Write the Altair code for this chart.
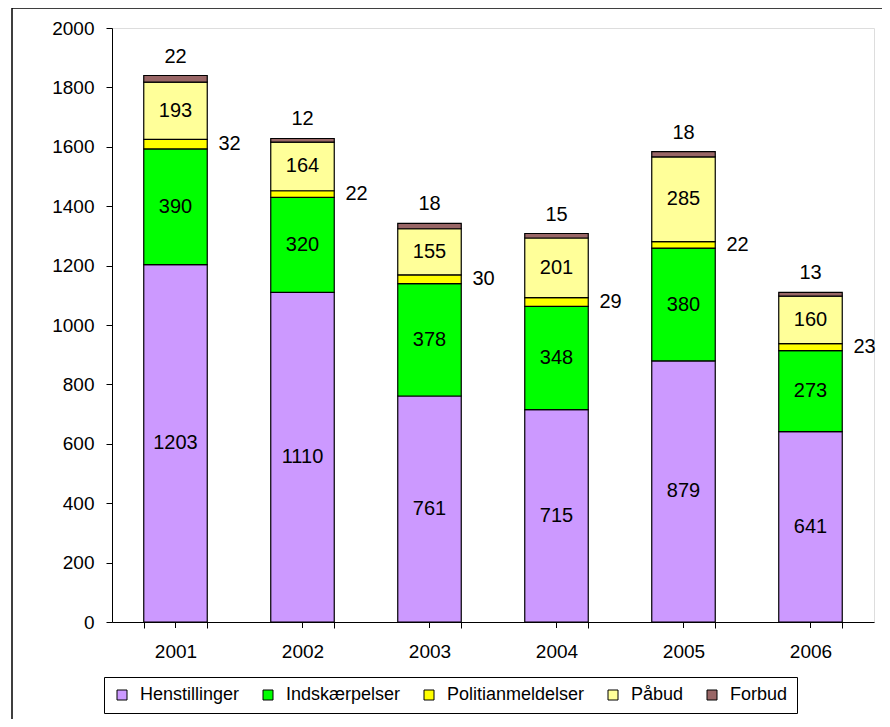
import altair as alt
import pandas as pd

years = ["2001", "2002", "2003", "2004", "2005", "2006"]
series = ["Henstillinger", "Indskærpelser", "Politianmeldelser", "Påbud", "Forbud"]
colors = ["#CC99FF", "#00FF00", "#FFFF00", "#FFFF99", "#996666"]

henstillinger = [1203, 1110, 761, 715, 879, 641]
indskaerpelser = [390, 320, 378, 348, 380, 273]
politianmeldelser = [32, 22, 30, 29, 22, 23]
paabud = [193, 164, 155, 201, 285, 160]
forbud = [22, 12, 18, 15, 18, 13]

values = [henstillinger, indskaerpelser, politianmeldelser, paabud, forbud]

rows = []
for i, y in enumerate(years):
    base = 0
    for s, vals in zip(series, values):
        v = vals[i]
        rows.append({"year": y, "series": s, "value": v, "start": base,
                     "end": base + v, "mid": base + v / 2, "order": series.index(s)})
        base += v
df = pd.DataFrame(rows)

FONT = "Liberation Sans"

xenc = alt.X("year:N", title=None, sort=years,
             scale=alt.Scale(paddingInner=0.5, paddingOuter=0.25),
             axis=alt.Axis(labelAngle=0, tickBand="extent", tickSize=6, tickColor="black",
                           domainColor="black", labelFontSize=19, labelPadding=14,
                           labelColor="black", labelFont=FONT, grid=False))

frame = alt.Chart(pd.DataFrame({"a": [0]})).mark_rect(
    fillOpacity=0, stroke="black", strokeWidth=1.5
).encode(x=alt.value(-100), x2=alt.value(1100), y=alt.value(-20), y2=alt.value(1100))

bars = alt.Chart(df).mark_bar(stroke="black", strokeWidth=1.2).encode(
    x=xenc,
    y=alt.Y("start:Q", title=None,
            scale=alt.Scale(domain=[0, 2000], nice=False),
            axis=alt.Axis(values=list(range(0, 2001, 200)), format="d", tickSize=6,
                          tickColor="black", domainColor="black", labelFontSize=19,
                          labelPadding=12, labelColor="black", labelFont=FONT, grid=False)),
    y2="end:Q",
    color=alt.Color("series:N", sort=series,
                    scale=alt.Scale(domain=series, range=colors),
                    legend=alt.Legend(title=None, orient="none", legendX=-8, legendY=649,
                                      direction="horizontal", columns=5,
                                      symbolType="square", symbolSize=100,
                                      symbolStrokeColor="black", symbolStrokeWidth=1,
                                      labelFontSize=18, labelFont=FONT, labelColor="black",
                                      labelOffset=9, columnPadding=19,
                                      strokeColor="black", fillColor="white", padding=9)),
    order=alt.Order("order:Q"),
)

center_ticks = alt.Chart(pd.DataFrame({"year": years})).mark_rule(color="black").encode(
    x=alt.X("year:N", sort=years), y=alt.value(594), y2=alt.value(600)
)

inner = alt.Chart(df).transform_filter(
    alt.FieldOneOfPredicate(field="series", oneOf=["Henstillinger", "Indskærpelser", "Påbud"])
).mark_text(fontSize=20, font=FONT, color="black", baseline="middle").encode(
    x=alt.X("year:N", sort=years), y=alt.Y("mid:Q"), text="value:Q"
)

polit_lbl = alt.Chart(df).transform_filter(
    alt.datum.series == "Politianmeldelser"
).mark_text(fontSize=20, font=FONT, color="black", baseline="middle", align="left", dx=43).encode(
    x=alt.X("year:N", sort=years), y=alt.Y("mid:Q"), text="value:Q"
)

forbud_lbl = alt.Chart(df).transform_filter(
    alt.datum.series == "Forbud"
).mark_text(fontSize=20, font=FONT, color="black", baseline="middle", dy=-19).encode(
    x=alt.X("year:N", sort=years), y=alt.Y("end:Q"), text="value:Q"
)

chart = alt.layer(frame, bars, center_ticks, inner, polit_lbl, forbud_lbl).properties(
    width=762, height=594,
    padding={"left": 104, "top": 20, "right": 8, "bottom": 97},
    autosize=alt.AutoSizeParams(type="none"),
).configure_view(strokeWidth=0).configure(background="white")

chart.save("out.html", embed_options={"renderer": "svg", "actions": False})
